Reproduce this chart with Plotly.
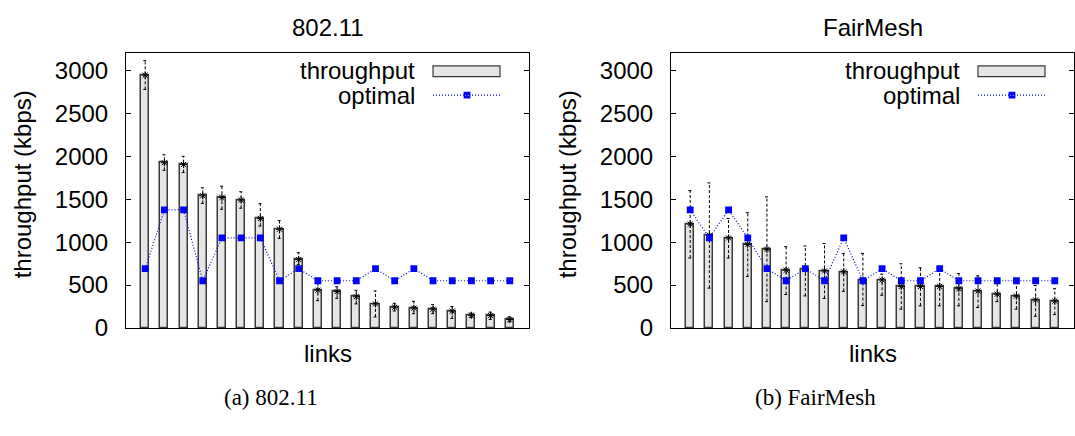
import numpy as np
import plotly.graph_objects as go

# ---- data: per-link throughput (kbps), min/max ranges and optimal rate ----
tp_80211 = [2945, 1925, 1905, 1540, 1520, 1490, 1275, 1150, 797, 440,
            423, 363, 280, 242, 230, 218, 196, 147, 144, 98]
lo_80211 = [2780, 1837, 1810, 1451, 1383, 1395, 1187, 1043, 740, 317,
            345, 280, 128, 197, 166, 166, 110, 121, 98, 71]
hi_80211 = [3115, 2018, 2000, 1633, 1652, 1587, 1448, 1251, 876, 544,
            480, 438, 431, 287, 310, 272, 249, 174, 185, 128]
opt_80211 = [690, 1375, 1375, 550, 1050, 1050, 1050, 550, 690, 550,
             550, 550, 690, 550, 690, 550, 550, 550, 550, 550]

tp_fair = [1210, 1079, 1049, 973, 916, 672, 683, 664, 653, 559,
           559, 483, 483, 483, 457, 430, 393, 370, 325, 313]
lo_fair = [815, 464, 815, 600, 306, 389, 373, 344, 426, 260,
           381, 219, 257, 257, 257, 238, 306, 219, 136, 155]
hi_fair = [1600, 1690, 1275, 1343, 1527, 947, 955, 984, 868, 868,
           626, 747, 701, 700, 634, 607, 521, 517, 494, 457]
opt_fair = [1375, 1050, 1375, 1050, 690, 550, 690, 550, 1050, 550,
            690, 550, 550, 690, 550, 550, 550, 550, 550, 550]

panel_titles = ["802.11", "FairMesh"]
captions = ["(a) 802.11", "(b) FairMesh"]
y_ticks = [0, 500, 1000, 1500, 2000, 2500, 3000]

W, H = 1075, 436
SANS = "Liberation Sans, Arial, Helvetica, sans-serif"
SERIF = "Liberation Serif, Times New Roman, serif"
BLUE = "#0000ff"
FS = 24

opt_marker = dict(symbol="square-x-open", size=5, color=BLUE,
                  line=dict(color=BLUE, width=1.8))
opt_line = dict(color=BLUE, width=1.2, dash="1px,2px")


def px(x):
    return x / W


def py(y):
    return 1 - y / H


fig = go.Figure()

panels = [
    (tp_80211, lo_80211, hi_80211, opt_80211, "x", "y"),
    (tp_fair, lo_fair, hi_fair, opt_fair, "x2", "y2"),
]

for tp, lo, hi, opt, xa, ya in panels:
    links = np.arange(1, len(tp) + 1)
    fig.add_trace(go.Bar(
        x=links, y=tp, width=0.42, xaxis=xa, yaxis=ya,
        marker=dict(color="#e5e5e5", line=dict(color="#3a3a3a", width=1.5)),
        showlegend=False, hoverinfo="skip"))
    # dashed min/max range for every link
    ex, ey = [], []
    for i, l, h in zip(links, lo, hi):
        ex += [i, i, None, i - 0.1, i + 0.1, None, i - 0.1, i + 0.1, None]
        ey += [l, h, None, h, h, None, l, l, None]
    fig.add_trace(go.Scatter(
        x=ex, y=ey, mode="lines", xaxis=xa, yaxis=ya,
        line=dict(color="black", width=1, dash="3px,2px"),
        showlegend=False, hoverinfo="skip"))
    fig.add_trace(go.Scatter(
        x=links, y=tp, mode="markers", xaxis=xa, yaxis=ya,
        marker=dict(symbol="asterisk-open", size=6, color="black",
                    line=dict(color="black", width=1)),
        showlegend=False, hoverinfo="skip"))
    fig.add_trace(go.Scatter(
        x=links, y=opt, mode="lines+markers", xaxis=xa, yaxis=ya,
        line=opt_line, marker=opt_marker,
        showlegend=False, hoverinfo="skip"))

# plot-area geometry (pixels)
left_box = (126, 529)
right_box = (671, 1074)
top_px, bot_px = 55, 338

axis_common = dict(
    showline=True, linecolor="black", linewidth=1, mirror=True,
    showgrid=False, zeroline=False,
)
yaxis_common = dict(
    axis_common, range=[0, 3200], tickvals=y_ticks, ticks="inside",
    ticklen=5, tickcolor="black", mirror="allticks",
    tickfont=dict(family=SANS, size=FS, color="black"),
    ticklabelstandoff=12,
)
xaxis_common = dict(axis_common, range=[0, 21], showticklabels=False,
                    ticks="")

fig.update_layout(
    width=W, height=H, margin=dict(l=0, r=0, t=0, b=0),
    paper_bgcolor="white", plot_bgcolor="rgba(0,0,0,0)",
    bargap=0,
    xaxis=dict(xaxis_common, domain=[px(left_box[0]), px(left_box[1])],
               anchor="y"),
    yaxis=dict(yaxis_common, domain=[py(bot_px), py(top_px)], anchor="x"),
    xaxis2=dict(xaxis_common, domain=[px(right_box[0]), px(right_box[1])],
                anchor="y2"),
    yaxis2=dict(yaxis_common, domain=[py(bot_px), py(top_px)], anchor="x2"),
    # full-page overlay used for the key samples
    xaxis3=dict(domain=[0, 1], range=[0, W], visible=False, anchor="y3"),
    yaxis3=dict(domain=[0, 1], range=[H, 0], visible=False, anchor="x3"),
)

annotations = []
shapes = []
for k, (x0, x1) in enumerate([left_box, right_box]):
    cx = (x0 + x1) / 2
    annotations.append(dict(
        x=px(cx), y=py(28), xref="paper", yref="paper", text=panel_titles[k],
        showarrow=False, font=dict(family=SANS, size=FS, color="black"),
        xanchor="center", yanchor="middle"))
    annotations.append(dict(
        x=px(cx), y=py(364), xref="paper", yref="paper", text="links",
        showarrow=False, font=dict(family=SANS, size=FS, color="black"),
        xanchor="center", yanchor="middle"))
    annotations.append(dict(
        x=px(x0 - 104), y=py(190), xref="paper", yref="paper",
        text="throughput (kbps)", textangle=-90, showarrow=False,
        font=dict(family=SANS, size=FS, color="black"),
        xanchor="center", yanchor="middle"))
    annotations.append(dict(
        x=px(cx - 57), y=py(410), xref="paper", yref="paper",
        text=captions[k], showarrow=False,
        font=dict(family=SERIF, size=23, color="black"),
        xanchor="center", yanchor="middle"))
    # key: text right-aligned, sample to its right
    kx = x0 + 291
    annotations.append(dict(
        x=px(kx), y=py(73), xref="paper", yref="paper", text="throughput",
        showarrow=False, font=dict(family=SANS, size=FS, color="black"),
        xanchor="right", yanchor="middle"))
    annotations.append(dict(
        x=px(kx), y=py(98), xref="paper", yref="paper", text="optimal",
        showarrow=False, font=dict(family=SANS, size=FS, color="black"),
        xanchor="right", yanchor="middle"))
    shapes.append(dict(
        type="rect", xref="paper", yref="paper",
        x0=px(kx + 16), x1=px(kx + 83), y0=py(79), y1=py(68),
        fillcolor="#e5e5e5", line=dict(color="#3a3a3a", width=1.2)))
    fig.add_trace(go.Scatter(
        x=[kx + 16, kx + 50, kx + 83], y=[98, 98, 98], mode="lines",
        xaxis="x3", yaxis="y3", line=opt_line,
        showlegend=False, hoverinfo="skip"))
    fig.add_trace(go.Scatter(
        x=[kx + 50], y=[98], mode="markers", xaxis="x3", yaxis="y3",
        marker=opt_marker, showlegend=False, hoverinfo="skip"))

fig.update_layout(annotations=annotations, shapes=shapes)

fig.write_html("out.html")
